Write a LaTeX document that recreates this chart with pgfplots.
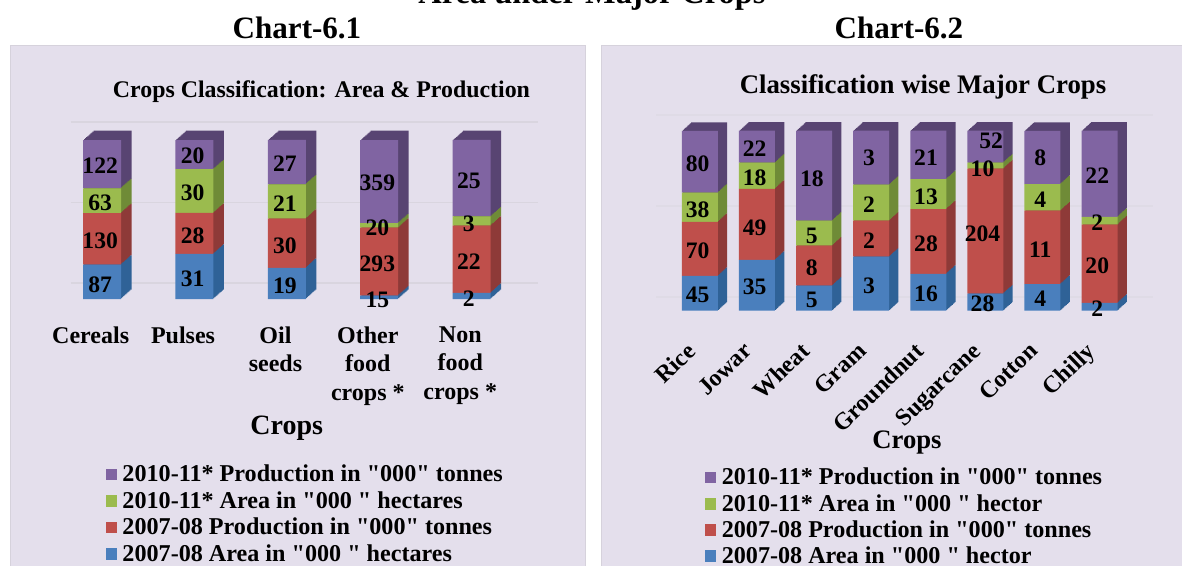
\documentclass[border=0pt]{standalone}
\usepackage{pgfplots}
\usepackage{pgfplotstable}
\usepackage{fontspec}
\setmainfont{Liberation Serif}[Ligatures=TeXOff]
\pgfplotsset{compat=1.18}

\definecolor{panel}{HTML}{E4DFEC}
\definecolor{panelline}{HTML}{D6D2DC}
\definecolor{gridc}{HTML}{D9D5DF}
\definecolor{gridd}{HTML}{DFDBE6}
\definecolor{frontA}{HTML}{4A7FBD}
\definecolor{frontB}{HTML}{BF4F4B}
\definecolor{frontC}{HTML}{9BBB4E}
\definecolor{frontD}{HTML}{8064A2}
\definecolor{sideA}{HTML}{2F6297}
\definecolor{sideB}{HTML}{8E3A38}
\definecolor{sideC}{HTML}{6F8B37}
\definecolor{sideD}{HTML}{584472}

% segment shares of each bar in percent
\pgfplotstableread{
x a b c d
0 21.64 32.34 15.67 30.35
1 28.44 25.69 27.52 18.35
2 19.59 30.93 21.65 27.84
3 2.18 42.65 2.91 52.26
4 3.85 42.31 5.77 48.08
}\tabA
\pgfplotstableread{
x a b c d
0 19.31 30.04 16.31 34.33
1 28.23 39.52 14.52 17.74
2 13.89 22.22 13.89 50.00
3 30.00 20.00 20.00 30.00
4 20.51 35.90 16.67 26.92
5 9.52 69.39 3.40 17.69
6 14.81 40.74 14.81 29.63
7 4.35 43.48 4.35 47.83
}\tabB
% printed values and where they sit
\pgfplotstableread{
x y l
-0.02 8.8 87
-0.02 36.7 130
-0.02 60.6 63
-0.02 83.8 122
0.98 13.0 31
0.98 39.6 28
0.98 66.9 30
0.98 89.9 20
1.98 8.4 19
1.98 33.3 30
1.98 59.7 21
1.98 84.9 27
2.98 -0.6 15
2.98 22.0 293
2.98 44.5 20
2.98 72.8 359
3.97 0.0 2
3.97 23.5 22
3.97 47.2 3
3.97 74.2 25
}\labA
\pgfplotstableread{
x y l
-0.04 8.7 45
-0.04 33.3 70
-0.04 55.9 38
-0.04 81.9 80
0.96 13.3 35
0.96 46.3 49
0.96 73.9 18
0.96 90.2 22
1.96 5.9 5
1.96 24.1 8
1.96 41.5 5
1.96 73.5 18
2.96 13.9 3
2.96 38.9 2
2.96 58.7 2
2.96 84.8 3
3.96 9.3 16
3.96 37.4 28
3.96 63.4 13
3.96 85.0 21
4.95 3.7 28
4.95 42.6 204
4.95 79.1 10
5.10 94.4 52
5.96 6.5 4
5.96 33.7 11
5.96 61.5 4
5.96 84.8 8
6.96 1.3 2
6.96 25.2 20
6.96 48.9 2
6.96 75.2 22
}\labB

\newcommand{\pxfont}[1]{\fontsize{#1}{#1}\selectfont\bfseries}
\pgfplotsset{
  legsq/.style={legend image code/.code={\fill[##1] (0pt,-4.3pt) rectangle (8.6pt,4.3pt); \path (10.6pt,0pt);}},
  base/.style={scale only axis, anchor=south west, ymin=0, ymax=100, clip=false},
  chartA/.style={base, width=346.5pt, height=119.25pt, xmin=-0.5, xmax=4.5, bar width=28.5pt},
  chartB/.style={base, width=342.6pt, height=135pt, xmin=-0.5, xmax=7.5, bar width=27pt},
}
% one stack of bars; #1 table, #2 colour prefix
\newcommand{\stack}[2]{
  \addplot[fill=#2A, draw=none, legsq] table[x=x,y=a] {#1};
  \addplot[fill=#2B, draw=none, legsq] table[x=x,y=b] {#1};
  \addplot[fill=#2C, draw=none, legsq] table[x=x,y=c] {#1};
  \addplot[fill=#2D, draw=none, legsq] table[x=x,y=d] {#1};
}

\begin{document}
\begin{tikzpicture}[x=0.75pt,y=0.75pt]
\path[use as bounding box, clip] (0,0) rectangle (1182,565);
\fill[white] (0,0) rectangle (1182,565);
\filldraw[fill=panel, draw=panelline] (10,-5) rectangle (585,520);
\filldraw[fill=panel, draw=panelline] (601.5,-5) rectangle (1190,520);

\node[font=\pxfont{24.3}, anchor=base] at (592,561) {Area under Major Crops};
\node[font=\pxfont{23.3}] at (297,537) {Chart-6.1};
\node[font=\pxfont{23.3}] at (899,537) {Chart-6.2};

% faint wall lines
\begin{axis}[base, at={(53.25pt,211.5pt)}, width=350pt, height=120.75pt, xmin=0, xmax=1,
  axis line style={draw=none}, tick style={draw=none}, xtick=\empty, ytick={0,50,100},
  yticklabels={}, ymajorgrids, grid style={gridc, line width=1pt}]
\end{axis}
\begin{axis}[base, at={(492pt,201pt)}, width=372.75pt, height=136.5pt, xmin=0, xmax=1,
  axis line style={draw=none}, tick style={draw=none}, xtick=\empty, ytick={0,50,100},
  yticklabels={}, ymajorgrids, grid style={gridd, line width=1pt}]
\end{axis}

% sides and tops: the bars repeated back to front
\foreach \k in {10,...,1} {
  \begin{axis}[chartA, ybar stacked, hide axis, at={({41.85pt+0.7875pt*\k},{199.5pt+0.6975pt*\k})}]
    \stack{\tabA}{side}
  \end{axis}
  \begin{axis}[chartB, ybar stacked, hide axis, at={({503.5pt+0.6975pt*\k},{190.7pt+0.6375pt*\k})}]
    \stack{\tabB}{side}
  \end{axis}
}

% chart 6.1 front
\begin{axis}[chartA, ybar stacked, at={(41.85pt,199.5pt)},
  axis line style={draw=none}, tick style={draw=none}, ytick=\empty,
  xtick={0,1,2,3,4},
  xticklabels={Cereals,Pulses,{Oil\\seeds},{Other\\food\\crops *},{Non\\food\\crops *}},
  xticklabel style={font=\fontsize{18}{21.6}\selectfont\bfseries, align=center, anchor=north, xshift=-8.5pt, yshift=-17pt},
  xlabel={Crops}, xlabel style={font=\pxfont{21}, at={(axis description cs:0.5,-0.811)}, anchor=center},
  title={Crops Classification: Area \& Production},
  title style={font=\pxfont{17.9}, at={(axis description cs:0.575,1.251)}, anchor=center},
  reverse legend, legend cell align=left,
  legend style={at={(axis description cs:0.108,-1.028)}, anchor=north west, draw=none, fill=none,
    font=\pxfont{18.1}, inner sep=0pt, outer sep=0pt, row sep=1.8pt}]
  \stack{\tabA}{front}
  \legend{2007-08 Area in "000 " hectares, 2007-08 Production in "000" tonnes,
    2010-11* Area in "000 " hectares, 2010-11* Production in "000" tonnes}
\end{axis}
\begin{axis}[chartA, hide axis, at={(41.85pt,199.5pt)}]
  \addplot[only marks, mark=none, nodes near coords, point meta=explicit symbolic,
    every node near coord/.append style={anchor=center, inner sep=0pt, font=\pxfont{17.7}, text=black}]
    table[x=x,y=y,meta=l] {\labA};
\end{axis}

% chart 6.2 front
\begin{axis}[chartB, ybar stacked, at={(503.5pt,190.7pt)},
  axis line style={draw=none}, tick style={draw=none}, ytick=\empty,
  xtick={0,1,2,3,4,5,6,7},
  xticklabels={Rice,Jowar,Wheat,Gram,Groundnut,Sugarcane,Cotton,Chilly},
  xticklabel style={font=\pxfont{18}, rotate=44, anchor=north east, xshift=-20.25pt, yshift=-5.3pt},
  xlabel={Crops}, xlabel style={font=\pxfont{20}, at={(axis description cs:0.516,-0.73)}, anchor=center},
  title={Classification wise Major Crops},
  title style={font=\pxfont{20.1}, at={(axis description cs:0.551,1.198)}, anchor=center},
  reverse legend, legend cell align=left,
  legend style={at={(axis description cs:0.0737,-0.86)}, anchor=north west, draw=none, fill=none,
    font=\pxfont{18.1}, inner sep=0pt, outer sep=0pt, row sep=1.6pt}]
  \stack{\tabB}{front}
  \legend{2007-08 Area in "000 " hector, 2007-08 Production in "000" tonnes,
    2010-11* Area in "000 " hector, 2010-11* Production in "000" tonnes}
\end{axis}
\begin{axis}[chartB, hide axis, at={(503.5pt,190.7pt)}]
  \addplot[only marks, mark=none, nodes near coords, point meta=explicit symbolic,
    every node near coord/.append style={anchor=center, inner sep=0pt, font=\pxfont{17.7}, text=black}]
    table[x=x,y=y,meta=l] {\labB};
\end{axis}
\end{tikzpicture}
\end{document}
